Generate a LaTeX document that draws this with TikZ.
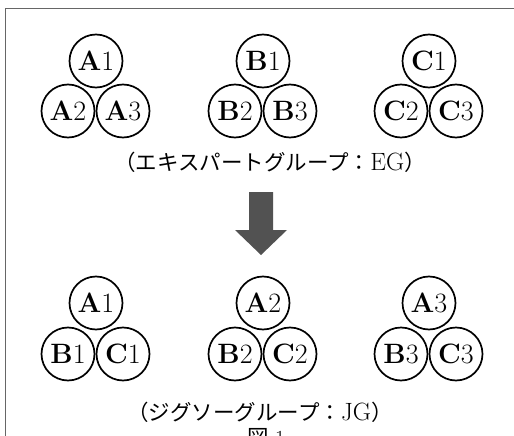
\documentclass[tikz,border=0pt]{standalone}
\usepackage{fontspec}
\newfontfamily\jpfont{Noto Sans CJK JP}
\begin{document}
\begin{tikzpicture}[
    x=1pt, y=-1pt,
    member/.style={circle, draw, line width=1.7pt, minimum size=53pt, inner sep=0pt,
        font=\fontsize{28}{28}\selectfont},
    caption/.style={font=\fontsize{21.5}{23}\selectfont, inner sep=0pt}
]
\useasboundingbox (0,0) rectangle (514,436);
\draw[line width=1.4pt, gray!80!black] (5.5,450) -- (5.5,8.5) -- (530,8.5);
\foreach \g/\x in {A/96,B/263,C/429} {
    \node[member] (\g1) at (\x,61) {\textbf{\g}1};
    \node[member] (\g2) at (\x-28,111) {\textbf{\g}2};
    \node[member] (\g3) at (\x+27,111) {\textbf{\g}3};
}
\node[caption] (eg) at (270,162) {{\jpfont （エキスパートグループ：}{\fontsize{25}{25}\selectfont EG}{\jpfont ）}};
\fill[black!68] (249,192) -- (273,192) -- (273,230) -- (287,230) -- (261,255)
    -- (235,230) -- (249,230) -- cycle;
\foreach \n/\x in {1/96,2/263,3/429} {
    \node[member] (ja\n) at (\x,303) {\textbf{A}\n};
    \node[member] (jb\n) at (\x-28,354) {\textbf{B}\n};
    \node[member] (jc\n) at (\x+27,354) {\textbf{C}\n};
}
\node[caption] (jg) at (260,412) {{\jpfont （ジグソーグループ：}{\fontsize{25}{25}\selectfont JG}{\jpfont ）}};
\node[caption, anchor=north] (fig) at (266,428) {{\jpfont 図} 1};
\end{tikzpicture}
\end{document}
